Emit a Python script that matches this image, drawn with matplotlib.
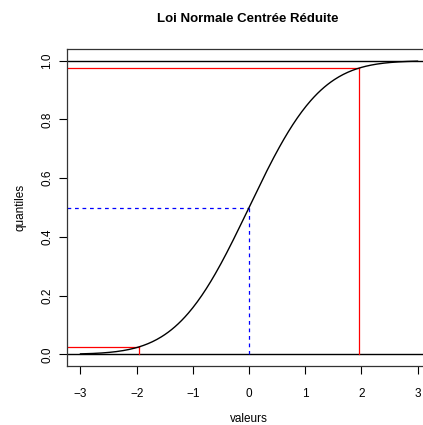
import math
import numpy as np
import matplotlib
matplotlib.use("Agg")
from matplotlib import pyplot as plt

plt.rcParams['font.family'] = ['Liberation Sans', 'DejaVu Sans']

# quantiles marked on the curve and their probabilities
z_marks = [-1.96, 0.0, 1.96]
p_marks = [0.025, 0.5, 0.975]
mark_colors = ['red', 'blue', 'red']
mark_styles = ['-', (0, (3, 3)), '-']

x_ticks = [-3, -2, -1, 0, 1, 2, 3]
y_ticks = [0.0, 0.2, 0.4, 0.6, 0.8, 1.0]

# the normal cdf over the plotted range
x = np.linspace(-3, 3, 301)
y = np.array([0.5 * (1 + math.erf(v / math.sqrt(2))) for v in x])

fig = plt.figure(figsize=(4.23, 4.25), dpi=100)
ax = fig.add_axes([67 / 423, 59 / 425, 364 / 423, 317 / 425])

xmin, xmax = -3.24, 3.24
ax.set_xlim(xmin, xmax)
ax.set_ylim(-0.04, 1.04)

ax.axhline(0, color='black', lw=1)
ax.axhline(1, color='black', lw=1)

for z, p, c, ls in zip(z_marks, p_marks, mark_colors, mark_styles):
    ax.plot([xmin, z], [p, p], color=c, lw=0.9, linestyle=ls)
    ax.plot([z, z], [p, 0], color=c, lw=0.9, linestyle=ls)

ax.plot(x, y, color='black', lw=1)

ax.set_xticks(x_ticks)
ax.set_xticklabels(['\u22123', '\u22122', '\u22121', '0', '1', '2', '3'])
ax.set_yticks(y_ticks)
ax.set_yticklabels(['%.1f' % v for v in y_ticks], rotation=90, va='center')
ax.tick_params(direction='out', length=6, width=0.8, labelsize=8.5)
ax.tick_params(axis='x', pad=9.5)
ax.tick_params(axis='y', pad=4)

for s in ax.spines.values():
    s.set_linewidth(0.9)
    s.set_color('#333333')

ax.set_xlabel('valeurs', fontsize=8.5, labelpad=10)
ax.set_ylabel('quantiles', fontsize=8.5, labelpad=10.5)
fig.text(248 / 423, 1 - 19 / 425, 'Loi Normale Centrée Réduite',
         ha='center', va='center', fontsize=9.5, fontweight='bold')

fig.savefig('out.png', dpi=100)
